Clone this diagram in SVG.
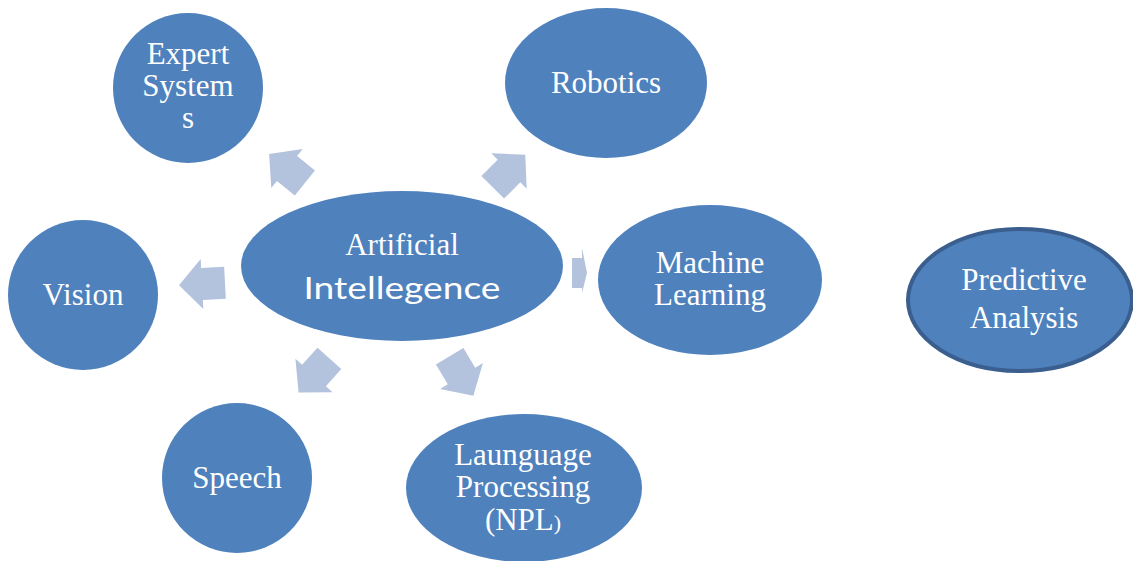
<svg xmlns="http://www.w3.org/2000/svg" width="1133" height="561" viewBox="0 0 1133 561">
<defs>
<style>
.node{fill:#4f81bd;}
.pred{fill:#4f81bd;stroke:#3a5f8e;stroke-width:4;}
.lbl{font-family:"Liberation Serif","Times New Roman",serif;font-size:31px;fill:#ffffff;text-anchor:middle;}
.sans{font-family:Lato,"Liberation Sans",sans-serif;font-size:31px;fill:#ffffff;text-anchor:middle;}
.arr{fill:#b3c2dd;}
</style>
<polygon id="blk" points="-23,-16 0,-16 0,-25 23,0 0,25 0,16 -23,16"/>
</defs>
<rect width="1133" height="561" fill="#ffffff"/>
<g id="connectors">
<use href="#blk" class="arr" transform="translate(287,168.5) rotate(-141)"/>
<use href="#blk" class="arr" transform="translate(509,171) rotate(-45)"/>
<use href="#blk" class="arr" transform="translate(202,284) rotate(177)"/>
<use href="#blk" class="arr" transform="translate(314,375.5) rotate(132)"/>
<use href="#blk" class="arr" transform="translate(461.5,376) rotate(59)"/>
<polygon class="arr" points="572,258 582,258 582,248 587,273 582,293 582,288 572,288"/>
</g>
<g id="ai">
<ellipse class="node" cx="402" cy="266" rx="161" ry="75"/>
<text class="lbl" x="402" y="255">Artificial</text>
<text class="sans" x="402" y="299" textLength="197" lengthAdjust="spacingAndGlyphs">Intellegence</text>
</g>
<g id="expert">
<circle class="node" cx="188" cy="88" r="75"/>
<text class="lbl" x="188" y="64">Expert</text>
<text class="lbl" x="188" y="96">System</text>
<text class="lbl" x="188" y="128">s</text>
</g>
<g id="robotics">
<ellipse class="node" cx="606" cy="83" rx="101" ry="75"/>
<text class="lbl" x="606" y="93">Robotics</text>
</g>
<g id="machine">
<ellipse class="node" cx="710" cy="280" rx="112" ry="75"/>
<text class="lbl" x="710" y="273">Machine</text>
<text class="lbl" x="710" y="305">Learning</text>
</g>
<g id="vision">
<circle class="node" cx="83" cy="295" r="75"/>
<text class="lbl" x="83" y="305">Vision</text>
</g>
<g id="speech">
<circle class="node" cx="237" cy="478" r="75"/>
<text class="lbl" x="237" y="488">Speech</text>
</g>
<g id="language">
<ellipse class="node" cx="524" cy="488" rx="118" ry="74"/>
<text class="lbl" x="523" y="465">Launguage</text>
<text class="lbl" x="523" y="497">Processing</text>
<text class="lbl" x="523" y="530">(NPL<tspan font-size="22">)</tspan></text>
</g>
<g id="predictive">
<ellipse class="pred" cx="1020" cy="300" rx="112" ry="71"/>
<text class="lbl" x="1024" y="290" font-size="29">Predictive</text>
<text class="lbl" x="1024" y="328" font-size="29">Analysis</text>
</g>
</svg>
